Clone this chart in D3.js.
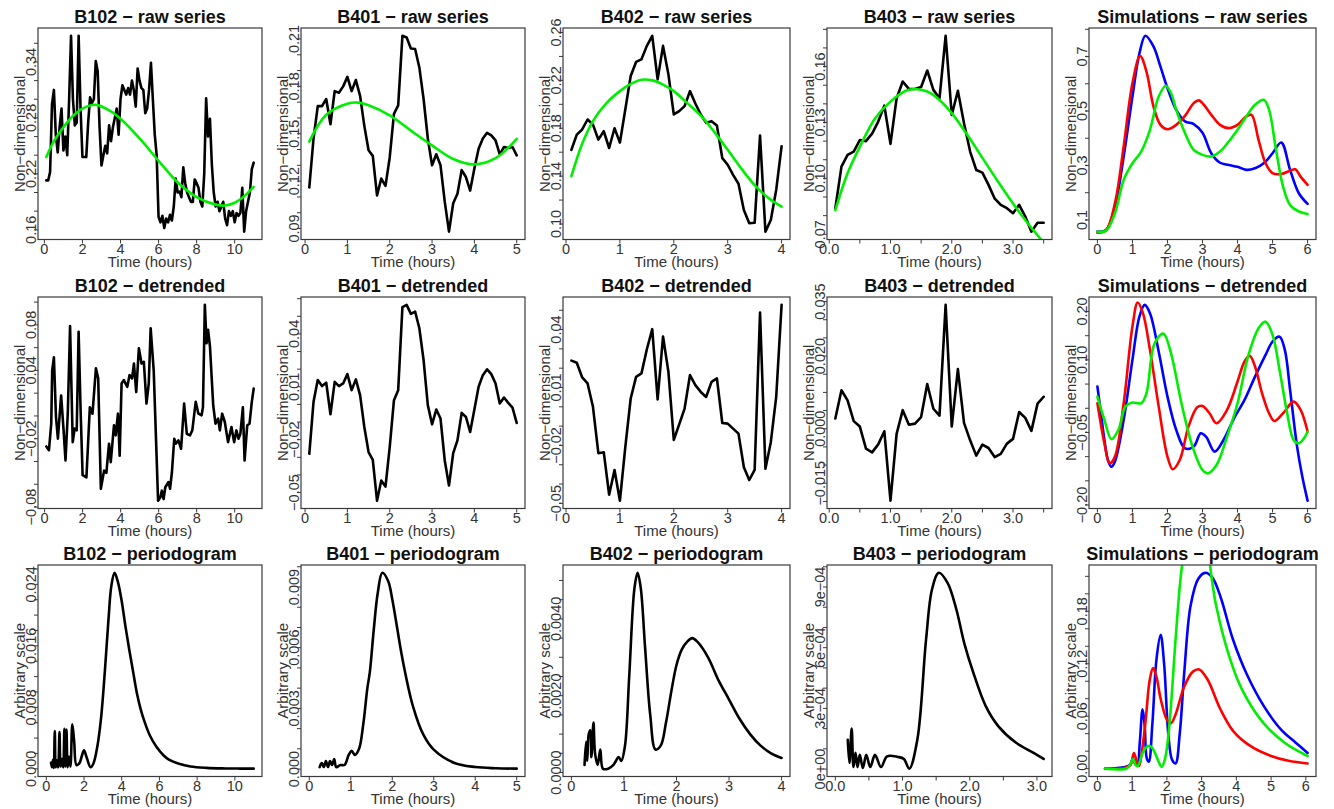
<!DOCTYPE html>
<html><head><meta charset="utf-8">
<script src="https://cdn.jsdelivr.net/npm/d3@7"></script>
<style>body{margin:0;background:#fff}svg{display:block}</style>
</head><body><svg id="c" width="1334" height="809"></svg>
<script>
// ---------------- DATA ----------------
const b102RawT = [0.1,0.2,0.3,0.4,0.5,0.6,0.7,0.8,0.9,1.0,1.1,1.2,1.3,1.4,1.5,1.6,1.7,1.8,1.9,2.0,2.1,2.2,2.3,2.4,2.5,2.6,2.7,2.8,2.9,3.0,3.1,3.2,3.3,3.4,3.5,3.6,3.7,3.8,3.9,4.0,4.1,4.2,4.3,4.4,4.5,4.6,4.7,4.8,4.9,5.0,5.1,5.2,5.3,5.4,5.5,5.6,5.7,5.8,5.9,6.0,6.1,6.2,6.3,6.4,6.5,6.6,6.7,6.8,6.9,7.0,7.1,7.2,7.3,7.4,7.5,7.6,7.7,7.8,7.9,8.0,8.1,8.2,8.3,8.4,8.5,8.6,8.7,8.8,8.9,9.0,9.1,9.2,9.3,9.4,9.5,9.6,9.7,9.8,9.9,10.0,10.1,10.2,10.3,10.4,10.5,10.6,10.7,10.8,10.9,11.0];
const b102RawV = [0.213,0.213,0.222,0.295,0.31,0.262,0.243,0.27,0.29,0.245,0.26,0.24,0.30,0.368,0.30,0.272,0.275,0.368,0.29,0.238,0.238,0.238,0.275,0.302,0.296,0.30,0.341,0.33,0.27,0.229,0.24,0.25,0.242,0.272,0.255,0.27,0.28,0.29,0.262,0.30,0.315,0.31,0.305,0.312,0.305,0.32,0.31,0.292,0.333,0.32,0.312,0.31,0.285,0.29,0.31,0.339,0.30,0.262,0.24,0.174,0.168,0.175,0.162,0.172,0.168,0.176,0.17,0.185,0.215,0.20,0.201,0.195,0.227,0.21,0.20,0.195,0.19,0.19,0.214,0.21,0.205,0.19,0.185,0.22,0.301,0.26,0.279,0.23,0.2,0.185,0.19,0.18,0.185,0.19,0.172,0.165,0.18,0.175,0.18,0.168,0.178,0.175,0.178,0.205,0.158,0.18,0.19,0.2,0.225,0.232];
const b102Trend = [[0.1,0.238],[0.5,0.255],[1,0.27],[1.5,0.282],[2,0.29],[2.7,0.294],[3.5,0.287],[4,0.279],[5,0.258],[6,0.234],[7,0.211],[8,0.195],[9,0.187],[9.5,0.186],[10,0.189],[10.5,0.196],[11,0.206]];
const b102Det = [[0.09,-0.0268],[0.23,-0.030],[0.35,-0.0068],[0.4,0.040],[0.49,0.0515],[0.6,-0.001],[0.7,-0.020],[0.87,0.018],[1.0,-0.0127],[1.1,-0.039],[1.22,0.002],[1.34,0.079],[1.48,-0.023],[1.58,-0.011],[1.69,-0.0127],[1.79,0.074],[1.9,0.002],[2.0,-0.052],[2.2,-0.054],[2.38,0.0076],[2.52,0.002],[2.7,0.0418],[2.82,0.033],[2.96,-0.064],[3.13,-0.048],[3.25,-0.050],[3.39,-0.0244],[3.48,-0.0406],[3.65,-0.0082],[3.74,-0.017],[3.86,0.002],[3.95,-0.035],[4.05,0.0285],[4.17,0.0315],[4.35,0.0256],[4.47,0.0359],[4.6,0.033],[4.7,0.046],[4.82,0.021],[4.96,0.0594],[5.1,0.046],[5.22,0.0476],[5.36,0.0109],[5.48,0.0285],[5.58,0.077],[5.74,0.040],[5.97,-0.0744],[6.09,-0.0715],[6.17,-0.0656],[6.26,-0.073],[6.35,-0.0626],[6.52,-0.058],[6.6,-0.064],[6.7,-0.049],[6.82,-0.020],[6.9,-0.0244],[7.04,-0.0215],[7.18,-0.0288],[7.34,0.0109],[7.48,-0.0156],[7.65,-0.017],[7.77,-0.0127],[7.95,0.0124],[8.09,0.002],[8.26,0.0006],[8.33,0.0076],[8.43,0.0976],[8.52,0.0638],[8.6,0.0756],[8.7,0.061],[8.87,0.0094],[8.99,-0.0068],[9.13,-0.0024],[9.22,-0.0127],[9.34,0.002],[9.48,-0.0053],[9.65,-0.023],[9.83,-0.0097],[9.97,-0.023],[10.09,-0.0127],[10.2,-0.020],[10.3,-0.0156],[10.43,0.0076],[10.52,-0.039],[10.66,-0.0082],[10.78,-0.0068],[10.9,0.0124],[11.0,0.0241]];
const b102Per = [[0.25,0.0008],[0.3,0.0002],[0.36,0.0012],[0.4,0.0001],[0.45,0.0049],[0.5,0.0002],[0.56,0.0011],[0.63,0.0002],[0.7,0.0048],[0.76,0.0003],[0.84,0.0013],[0.9,0.0002],[0.96,0.0052],[1.01,0.0003],[1.07,0.0051],[1.13,0.0002],[1.2,0.0016],[1.28,0.0003],[1.38,0.0058],[1.48,0.0035],[1.6,0.0005],[1.75,0.0007],[1.9,0.0018],[2.0,0.0024],[2.15,0.0014],[2.35,0.0002],[2.5,0.0007],[2.7,0.0028],[2.9,0.0065],[3.1,0.0125],[3.3,0.0195],[3.45,0.0238],[3.62,0.0255],[3.8,0.0243],[4.0,0.0218],[4.2,0.0185],[4.4,0.0155],[4.6,0.0127],[4.8,0.0099],[5.0,0.0078],[5.2,0.0062],[5.5,0.0043],[5.86,0.0028],[6.2,0.0018],[6.5,0.0012],[7.0,0.0007],[7.65,0.0003],[8.5,0.00012],[9.5,0.00005],[10.3,0.00003],[11.0,0.00002]];

const b401T = [0.1,0.2,0.3,0.4,0.5,0.6,0.7,0.8,0.9,1.0,1.1,1.2,1.3,1.4,1.5,1.6,1.7,1.8,1.9,2.0,2.1,2.2,2.3,2.4,2.5,2.6,2.7,2.8,2.9,3.0,3.1,3.2,3.3,3.4,3.5,3.6,3.7,3.8,3.9,4.0,4.1,4.2,4.3,4.4,4.5,4.6,4.7,4.8,4.9,5.0];
const b401RawV = [0.116,0.147,0.1675,0.1675,0.172,0.156,0.177,0.176,0.180,0.186,0.177,0.184,0.174,0.155,0.1395,0.136,0.111,0.1216,0.117,0.135,0.1626,0.168,0.212,0.211,0.204,0.2037,0.192,0.172,0.147,0.130,0.137,0.130,0.107,0.088,0.106,0.112,0.127,0.1226,0.114,0.128,0.1405,0.147,0.1506,0.149,0.1458,0.137,0.1416,0.141,0.1416,0.1363];
const b401Trend = [[0.1,0.145],[0.5,0.162],[1.0,0.169],[1.25,0.1697],[1.5,0.168],[2.0,0.1616],[2.5,0.152],[3.0,0.1426],[3.5,0.134],[4.0,0.1306],[4.5,0.1345],[5.0,0.1468]];
const b401DetV = [-0.028,0.0015,0.0138,0.0104,0.0123,-0.0056,0.0128,0.0104,0.0119,0.0172,0.0081,0.0142,0.0053,-0.0128,-0.027,-0.0314,-0.0546,-0.0432,-0.0466,-0.0242,0.0024,0.0081,0.0552,0.0565,0.0514,0.0527,0.0432,0.0252,-0.0004,-0.0113,-0.0029,-0.008,-0.0318,-0.046,-0.0276,-0.0204,-0.0048,-0.0071,-0.0156,-0.0029,0.01,0.0166,0.0199,0.0172,0.0119,0.0005,0.0039,0.0009,-0.0018,-0.0105];
const b401Per = [[0.25,0.0001],[0.3,0.0003],[0.35,0.0001],[0.4,0.0004],[0.45,0.0001],[0.5,0.0004],[0.55,0.0002],[0.6,0.0005],[0.65,0.0001],[0.75,0.0002],[0.85,0.0002],[0.95,0.0007],[1.02,0.0009],[1.1,0.0007],[1.2,0.0010],[1.3,0.0022],[1.4,0.0040],[1.46,0.0048],[1.55,0.0068],[1.65,0.0087],[1.76,0.0097],[1.9,0.0093],[2.0,0.0084],[2.25,0.0054],[2.5,0.0031],[2.75,0.0017],[3.0,0.00096],[3.5,0.0003],[4.0,0.0001],[4.5,0.00004],[5.0,0.00002]];

const b402T = [0.1,0.2,0.3,0.4,0.5,0.6,0.7,0.8,0.9,1.0,1.1,1.2,1.3,1.4,1.5,1.6,1.7,1.8,1.9,2.0,2.1,2.2,2.3,2.4,2.5,2.6,2.7,2.8,2.9,3.0,3.1,3.2,3.3,3.4,3.5,3.6,3.7,3.8,3.9,4.0];
const b402RawV = [0.162,0.1747,0.179,0.1873,0.183,0.1705,0.1775,0.1635,0.180,0.168,0.1957,0.2236,0.2354,0.2376,0.2488,0.2572,0.2208,0.2488,0.225,0.1915,0.1943,0.1985,0.211,0.2007,0.1915,0.1845,0.1859,0.1822,0.155,0.1495,0.141,0.1336,0.1117,0.1006,0.101,0.1738,0.0936,0.1034,0.1285,0.1649];
const b402Trend = [[0.1,0.140],[0.3,0.167],[0.5,0.186],[0.75,0.201],[1.0,0.211],[1.2,0.217],[1.4,0.2205],[1.6,0.220],[1.8,0.2165],[2.0,0.211],[2.25,0.201],[2.5,0.1905],[2.75,0.177],[3.0,0.162],[3.25,0.1465],[3.5,0.1325],[3.75,0.122],[4.0,0.1145]];
const b402DetV = [0.0239,0.0228,0.0152,0.0121,0.000,-0.024,-0.0235,-0.0455,-0.0327,-0.0486,-0.0209,0.0043,0.0155,0.0173,0.0298,0.0402,0.0038,0.0364,0.0181,-0.0171,-0.0091,-0.0009,0.0164,0.0112,0.0077,0.0051,0.0129,0.0147,-0.0084,-0.0087,-0.0113,-0.0139,-0.0313,-0.0379,-0.0327,0.0488,-0.0321,-0.0183,0.0051,0.0528];
const b402Per = [[0.25,0.0002],[0.28,0.0008],[0.3,0.0003],[0.33,0.0010],[0.36,0.0011],[0.38,0.0004],[0.42,0.0013],[0.45,0.0005],[0.5,0.0002],[0.55,0.0006],[0.6,0.0001],[0.7,0.0001],[0.8,0.0002],[0.9,0.0004],[0.95,0.0003],[1.02,0.0007],[1.1,0.0025],[1.2,0.0048],[1.26,0.0052],[1.32,0.0048],[1.4,0.0033],[1.5,0.0015],[1.6,0.0006],[1.7,0.0007],[1.8,0.0013],[1.9,0.0021],[2.0,0.0028],[2.1,0.0032],[2.2,0.0034],[2.3,0.0035],[2.4,0.0034],[2.6,0.0030],[2.8,0.0024],[3.0,0.0019],[3.2,0.0014],[3.4,0.0010],[3.6,0.0007],[3.8,0.0005],[4.0,0.00038]];

const b403T = [0.1,0.2,0.3,0.4,0.5,0.6,0.7,0.8,0.9,1.0,1.1,1.2,1.3,1.4,1.5,1.6,1.7,1.8,1.9,2.0,2.1,2.2,2.3,2.4,2.5,2.6,2.7,2.8,2.9,3.0,3.1,3.2,3.3,3.4,3.5];
const b403RawV = [0.084,0.1063,0.1126,0.1144,0.1206,0.120,0.124,0.1305,0.139,0.1185,0.143,0.152,0.148,0.148,0.149,0.1579,0.1475,0.143,0.1765,0.134,0.147,0.1296,0.1144,0.1045,0.1031,0.0965,0.0892,0.0858,0.084,0.0813,0.0858,0.0795,0.0714,0.0762,0.0762];
const b403Trend = [[0.1,0.083],[0.3,0.1028],[0.5,0.117],[0.75,0.1323],[1.0,0.1412],[1.25,0.147],[1.4,0.148],[1.6,0.1466],[1.8,0.1421],[2.0,0.135],[2.25,0.1235],[2.5,0.111],[2.75,0.0985],[3.0,0.0865],[3.25,0.0755],[3.5,0.0655]];
const b403DetV = [0.0028,0.0106,0.0078,0.0021,0.0006,-0.0055,-0.0065,-0.0043,-0.0007,-0.0198,-0.0014,0.0051,0.0011,0.0014,0.0032,0.0123,0.0055,0.0036,0.0341,0.0006,0.0164,0.0016,-0.0032,-0.0074,-0.0044,-0.0053,-0.0078,-0.0069,-0.0041,-0.0028,0.0046,0.003,-0.0006,0.0069,0.0088];
const b403Per = [[0.185,0.000145],[0.21,0.00003],[0.243,0.0002],[0.27,0.00001],[0.30,0.00008],[0.33,0.00001],[0.364,0.00007],[0.41,0.000005],[0.46,0.00007],[0.52,0.00001],[0.59,0.00007],[0.68,0.00001],[0.77,0.000063],[0.93,0.00006],[1.02,0.00005],[1.1,0.000002],[1.22,0.000145],[1.35,0.00064],[1.44,0.00089],[1.54,0.00097],[1.67,0.00092],[1.8,0.00079],[1.92,0.00062],[2.05,0.00048],[2.24,0.00031],[2.43,0.00021],[2.69,0.00013],[2.95,0.00008],[3.1,0.00005]];

const simRawBlue = [[0,0.057],[0.25,0.063],[0.5,0.149],[0.75,0.333],[1.0,0.553],[1.2,0.712],[1.37,0.776],[1.6,0.737],[1.8,0.663],[2.0,0.584],[2.25,0.504],[2.5,0.462],[2.75,0.452],[3.0,0.42],[3.25,0.345],[3.5,0.31],[3.75,0.302],[4.0,0.295],[4.25,0.284],[4.5,0.29],[4.75,0.308],[5.0,0.345],[5.25,0.384],[5.5,0.284],[5.75,0.198],[6.0,0.159]];
const simRawRed = [[0,0.053],[0.25,0.063],[0.5,0.161],[0.75,0.37],[1.0,0.602],[1.22,0.702],[1.4,0.645],[1.6,0.517],[1.8,0.449],[2.0,0.433],[2.25,0.449],[2.5,0.482],[2.75,0.529],[2.9,0.539],[3.25,0.486],[3.5,0.449],[3.75,0.437],[4.0,0.449],[4.25,0.48],[4.4,0.486],[4.6,0.394],[4.8,0.308],[5.0,0.272],[5.25,0.269],[5.5,0.281],[5.65,0.286],[5.8,0.259],[6.0,0.229]];
const simRawGreen = [[0,0.057],[0.25,0.061],[0.5,0.1245],[0.75,0.247],[1.0,0.308],[1.25,0.351],[1.5,0.431],[1.75,0.553],[1.95,0.593],[2.1,0.566],[2.25,0.504],[2.5,0.419],[2.75,0.357],[3.0,0.339],[3.25,0.333],[3.5,0.351],[3.75,0.388],[4.0,0.431],[4.25,0.48],[4.5,0.523],[4.75,0.541],[4.9,0.504],[5.1,0.357],[5.3,0.2225],[5.5,0.155],[5.75,0.131],[6.0,0.122]];

const simDetBlue = [[0,0.045],[0.1,-0.0103],[0.2,-0.0655],[0.3,-0.107],[0.4,-0.121],[0.5,-0.110],[0.75,-0.024],[1.0,0.100],[1.2,0.1897],[1.35,0.2138],[1.5,0.1966],[1.75,0.117],[2.0,0.0241],[2.25,-0.0448],[2.5,-0.0828],[2.75,-0.079],[2.95,-0.0517],[3.1,-0.0586],[3.35,-0.0897],[3.6,-0.0655],[3.9,-0.0207],[4.2,0.0172],[4.5,0.0655],[4.8,0.1103],[5.0,0.138],[5.2,0.148],[5.35,0.1207],[5.5,0.0379],[5.7,-0.0793],[5.85,-0.1414],[6.0,-0.191]];
const simDetRed = [[0,0.0103],[0.2,-0.0724],[0.35,-0.1138],[0.5,-0.10],[0.75,0.0103],[1.0,0.169],[1.15,0.2186],[1.3,0.1966],[1.5,0.1207],[1.75,0.0034],[2.0,-0.10],[2.15,-0.126],[2.35,-0.107],[2.6,-0.038],[2.85,0.0021],[3.0,0.0048],[3.2,-0.0103],[3.4,-0.031],[3.7,-0.0034],[4.0,0.0552],[4.2,0.0966],[4.35,0.1083],[4.5,0.0862],[4.7,0.031],[4.9,-0.0103],[5.05,-0.0262],[5.3,-0.0103],[5.6,0.0138],[5.8,-0.0034],[6.0,-0.048]];
const simDetGreen = [[0,0.0241],[0.2,-0.024],[0.4,-0.064],[0.6,-0.0448],[0.8,0.0034],[1.0,0.0117],[1.25,0.0103],[1.4,0.031],[1.6,0.1276],[1.8,0.1517],[1.9,0.1538],[2.1,0.1138],[2.4,0.0103],[2.7,-0.0759],[3.0,-0.1276],[3.15,-0.1345],[3.4,-0.1172],[3.7,-0.0586],[4.0,0.0103],[4.3,0.1069],[4.6,0.1655],[4.8,0.179],[5.0,0.1517],[5.2,0.0793],[5.4,-0.0034],[5.6,-0.0655],[5.75,-0.0724],[5.9,-0.062],[6.0,-0.048]];

const simPerBlue = [[0.22,0],[0.5,0.0005],[0.8,0.002],[0.95,0.005],[1.02,0.012],[1.08,0.006],[1.15,0.004],[1.22,0.03],[1.3,0.068],[1.36,0.05],[1.42,0.012],[1.48,0.008],[1.58,0.05],[1.7,0.125],[1.82,0.153],[1.92,0.12],[2.04,0.04],[2.15,0.01],[2.25,0.006],[2.37,0.04],[2.5,0.11],[2.68,0.186],[2.9,0.217],[3.1,0.224],[3.3,0.219],[3.54,0.197],[3.9,0.148],[4.3,0.108],[4.8,0.071],[5.3,0.044],[5.7,0.03],[6.05,0.018]];
const simPerRed = [[0.22,0],[0.8,0.001],[0.95,0.004],[1.05,0.018],[1.12,0.01],[1.2,0.003],[1.3,0.025],[1.4,0.06],[1.5,0.1],[1.6,0.115],[1.7,0.105],[1.82,0.08],[2.0,0.056],[2.12,0.052],[2.25,0.062],[2.5,0.094],[2.75,0.111],[2.93,0.1135],[3.17,0.102],[3.54,0.068],[3.91,0.043],[4.4,0.026],[5.0,0.0145],[5.5,0.009],[6.05,0.006]];
const simPerGreen = [[0.22,0],[0.84,0.0002],[0.95,0.005],[1.02,0.011],[1.1,0.004],[1.16,0.003],[1.3,0.018],[1.42,0.025],[1.52,0.026],[1.62,0.021],[1.72,0.012],[1.85,0.002],[1.95,0.012],[2.07,0.049],[2.25,0.148],[2.4,0.22],[2.55,0.262],[2.7,0.285],[2.85,0.292],[3.0,0.285],[3.15,0.26],[3.3,0.215],[3.42,0.186],[3.79,0.129],[4.16,0.0907],[4.77,0.0526],[5.39,0.0297],[6.05,0.0145]];

// tick values and the labels that are printed
const xTicksB102 = [0,2,4,6,8,10], xLabB102 = ["0","2","4","6","8","10"];
const xTicksB401 = [0,1,2,3,4,5], xLabB401 = ["0","1","2","3","4","5"];
const xTicksB402 = [0,1,2,3,4], xLabB402 = ["0","1","2","3","4"];
const xTicksB403 = [0,0.5,1,1.5,2,2.5,3,3.5], xLabB403 = ["0.0","1.0","2.0","3.0"];
const xTicksSim = [0,1,2,3,4,5,6], xLabSim = ["0","1","2","3","4","5","6"];

const yTicksB102Raw = [0.16,0.18,0.20,0.22,0.24,0.26,0.28,0.30,0.32,0.34,0.36], yLabB102Raw = ["0.16","0.22","0.28","0.34"];
const yTicksB401Raw = [0.09,0.10,0.11,0.12,0.13,0.14,0.15,0.16,0.17,0.18,0.19,0.20,0.21], yLabB401Raw = ["0.09","0.12","0.15","0.18","0.21"];
const yTicksB402Raw = [0.10,0.12,0.14,0.16,0.18,0.20,0.22,0.24,0.26], yLabB402Raw = ["0.10","0.14","0.18","0.22","0.26"];
const yTicksB403Raw = [0.07,0.08,0.09,0.10,0.11,0.12,0.13,0.14,0.15,0.16,0.17,0.18], yLabB403Raw = ["0.07","0.10","0.13","0.16"];
const yTicksSimRaw = [0.1,0.2,0.3,0.4,0.5,0.6,0.7,0.8], yLabSimRaw = ["0.1","0.3","0.5","0.7"];

const yTicksB102Det = [-0.08,-0.06,-0.04,-0.02,0,0.02,0.04,0.06,0.08,0.10], yLabB102Det = ["-0.08","-0.02","0.04","0.08"];
const yTicksB401Det = [-0.05,-0.04,-0.03,-0.02,-0.01,0,0.01,0.02,0.03,0.04,0.05,0.06], yLabB401Det = ["-0.05","-0.02","0.01","0.04"];
const yTicksB402Det = [-0.05,-0.04,-0.03,-0.02,-0.01,0,0.01,0.02,0.03,0.04,0.05], yLabB402Det = ["-0.05","-0.02","0.01","0.04"];
const yTicksB403Det = [-0.02,-0.015,-0.01,-0.005,0,0.005,0.01,0.015,0.02,0.025,0.03,0.035], yLabB403Det = ["-0.015","0.000","0.020","0.035"];
const yTicksSimDet = [-0.20,-0.15,-0.10,-0.05,0,0.05,0.10,0.15,0.20], yLabSimDet = ["-0.20","-0.05","0.10","0.20"];

const yTicksB102Per = [0,0.002,0.004,0.006,0.008,0.010,0.012,0.014,0.016,0.018,0.020,0.022,0.024,0.026], yLabB102Per = ["0.000","0.008","0.016","0.024"];
const yTicksB401Per = [0,0.001,0.002,0.003,0.004,0.005,0.006,0.007,0.008,0.009,0.010], yLabB401Per = ["0.000","0.003","0.006","0.009"];
const yTicksB402Per = [0,0.0005,0.001,0.0015,0.002,0.0025,0.003,0.0035,0.004,0.0045,0.005,0.0055], yLabB402Per = ["0.0000","0.0020","0.0040"];
const yTicksB403Per = [0,1e-4,2e-4,3e-4,4e-4,5e-4,6e-4,7e-4,8e-4,9e-4,1e-3], yLabB403Per = ["0e+00","3e-04","6e-04","9e-04"];
const yTicksSimPer = [0,0.02,0.04,0.06,0.08,0.10,0.12,0.14,0.16,0.18,0.20,0.22], yLabSimPer = ["0.00","0.06","0.12","0.18"];

// ---------------- DRAWING ----------------
const FONT = '"Liberation Sans", Arial, Helvetica, sans-serif';
const colX = [38, 301, 563, 827, 1089];
const boxW = [224, 224, 227, 225, 227];
const rowY = [28, 297, 565];
const boxH = 211.5;
const svg = d3.select("#c");
const zip = (t, v) => t.map((d, i) => [d, v[i]]);
const pad = e => { const r = e[1] - e[0]; return [e[0] - 0.04 * r, e[1] + 0.04 * r]; };
const minus = s => s.replace(/-/g, "\u2212");

function panel(p) {
  const x0 = colX[p.col], y0 = rowY[p.row], w = boxW[p.col], h = boxH;
  const ref = p.series[0].data;
  const xd = p.xFrom0 ? pad([0, d3.max(ref, d => d[0])]) : pad(d3.extent(ref, d => d[0]));
  const yd = pad(d3.extent(ref, d => d[1]));
  const x = d3.scaleLinear().domain(xd).range([x0, x0 + w]);
  const y = d3.scaleLinear().domain(yd).range([y0 + h, y0]);
  const g = svg.append("g");
  const cid = "cl" + p.row + "_" + p.col;
  g.append("clipPath").attr("id", cid).append("rect")
    .attr("x", x0).attr("y", y0).attr("width", w).attr("height", h);
  const pg = g.append("g").attr("clip-path", `url(#${cid})`);
  p.series.forEach(s => {
    const line = d3.line().x(d => x(d[0])).y(d => y(d[1]))
      .curve(s.smooth ? d3.curveCatmullRom.alpha(0.5) : d3.curveLinear);
    pg.append("path").datum(s.data).attr("d", line).attr("fill", "none")
      .attr("stroke", s.color).attr("stroke-width", 2.6)
      .attr("stroke-linejoin", "round").attr("stroke-linecap", "round");
  });
  g.append("rect").attr("x", x0).attr("y", y0).attr("width", w).attr("height", h)
    .attr("fill", "none").attr("stroke", "#3a3a3a").attr("stroke-width", 1.2);
  // x axis
  const xt = p.xTicks.filter(v => v >= xd[0] && v <= xd[1]);
  xt.forEach(v => g.append("line").attr("x1", x(v)).attr("x2", x(v))
    .attr("y1", y0 + h).attr("y2", y0 + h + 4).attr("stroke", "#3a3a3a").attr("stroke-width", 1));
  p.xLabels.forEach(s => g.append("text").attr("x", x(+s)).attr("y", y0 + h + 14.5)
    .attr("text-anchor", "middle").attr("font-family", FONT).attr("font-size", 14.5)
    .attr("fill", "#333").text(s));
  // y axis
  const yt = p.yTicks.filter(v => v >= yd[0] && v <= yd[1]);
  yt.forEach(v => g.append("line").attr("x1", x0).attr("x2", x0 - 4)
    .attr("y1", y(v)).attr("y2", y(v)).attr("stroke", "#3a3a3a").attr("stroke-width", 1));
  p.yLabels.forEach(s => {
    const yy = y(+s);
    g.append("text").attr("transform", `translate(${x0 - 2},${yy}) rotate(-90)`)
      .attr("text-anchor", "middle").attr("font-family", FONT).attr("font-size", 14.5)
      .attr("fill", "#333").text(minus(s));
  });
  // titles
  g.append("text").attr("x", x0 + w / 2).attr("y", y0 - 5.5).attr("text-anchor", "middle")
    .attr("font-family", FONT).attr("font-size", 18).attr("font-weight", "bold")
    .attr("fill", "#111").text(p.title);
  g.append("text").attr("x", x0 + w / 2).attr("y", y0 + h + 27.5).attr("text-anchor", "middle")
    .attr("font-family", FONT).attr("font-size", 15).attr("fill", "#333").text("Time (hours)");
  g.append("text").attr("transform", `translate(${x0 - 13},${y0 + h / 2}) rotate(-90)`)
    .attr("text-anchor", "middle").attr("font-family", FONT).attr("font-size", 15)
    .attr("fill", "#333").text(p.ylab);
}

const ND = "Non\u2212dimensional", AS = "Arbitrary scale", M = " \u2212 ";
const BLK = "#000", GRN = "#00ee00", RED = "#ff0000", BLU = "#0000ff";

panel({col:0,row:0,title:"B102"+M+"raw series",ylab:ND,xTicks:xTicksB102,xLabels:xLabB102,yTicks:yTicksB102Raw,yLabels:yLabB102Raw,
  series:[{data:zip(b102RawT,b102RawV),color:BLK},{data:b102Trend,color:GRN,smooth:true}]});
panel({col:1,row:0,title:"B401"+M+"raw series",ylab:ND,xTicks:xTicksB401,xLabels:xLabB401,yTicks:yTicksB401Raw,yLabels:yLabB401Raw,
  series:[{data:zip(b401T,b401RawV),color:BLK},{data:b401Trend,color:GRN,smooth:true}]});
panel({col:2,row:0,title:"B402"+M+"raw series",ylab:ND,xTicks:xTicksB402,xLabels:xLabB402,yTicks:yTicksB402Raw,yLabels:yLabB402Raw,
  series:[{data:zip(b402T,b402RawV),color:BLK},{data:b402Trend,color:GRN,smooth:true}]});
panel({col:3,row:0,title:"B403"+M+"raw series",ylab:ND,xTicks:xTicksB403,xLabels:xLabB403,yTicks:yTicksB403Raw,yLabels:yLabB403Raw,
  series:[{data:zip(b403T,b403RawV),color:BLK},{data:b403Trend,color:GRN,smooth:true}]});
panel({col:4,row:0,title:"Simulations"+M+"raw series",ylab:ND,xTicks:xTicksSim,xLabels:xLabSim,yTicks:yTicksSimRaw,yLabels:yLabSimRaw,
  series:[{data:simRawBlue,color:BLU,smooth:true},{data:simRawRed,color:RED,smooth:true},{data:simRawGreen,color:GRN,smooth:true}]});

panel({col:0,row:1,title:"B102"+M+"detrended",ylab:ND,xTicks:xTicksB102,xLabels:xLabB102,yTicks:yTicksB102Det,yLabels:yLabB102Det,
  series:[{data:b102Det,color:BLK}]});
panel({col:1,row:1,title:"B401"+M+"detrended",ylab:ND,xTicks:xTicksB401,xLabels:xLabB401,yTicks:yTicksB401Det,yLabels:yLabB401Det,
  series:[{data:zip(b401T,b401DetV),color:BLK}]});
panel({col:2,row:1,title:"B402"+M+"detrended",ylab:ND,xTicks:xTicksB402,xLabels:xLabB402,yTicks:yTicksB402Det,yLabels:yLabB402Det,
  series:[{data:zip(b402T,b402DetV),color:BLK}]});
panel({col:3,row:1,title:"B403"+M+"detrended",ylab:ND,xTicks:xTicksB403,xLabels:xLabB403,yTicks:yTicksB403Det,yLabels:yLabB403Det,
  series:[{data:zip(b403T,b403DetV),color:BLK}]});
panel({col:4,row:1,title:"Simulations"+M+"detrended",ylab:ND,xTicks:xTicksSim,xLabels:xLabSim,yTicks:yTicksSimDet,yLabels:yLabSimDet,
  series:[{data:simDetBlue,color:BLU,smooth:true},{data:simDetRed,color:RED,smooth:true},{data:simDetGreen,color:GRN,smooth:true}]});

panel({col:0,row:2,title:"B102"+M+"periodogram",ylab:AS,xFrom0:true,xTicks:xTicksB102,xLabels:xLabB102,yTicks:yTicksB102Per,yLabels:yLabB102Per,
  series:[{data:b102Per,color:BLK,smooth:true}]});
panel({col:1,row:2,title:"B401"+M+"periodogram",ylab:AS,xFrom0:true,xTicks:xTicksB401,xLabels:xLabB401,yTicks:yTicksB401Per,yLabels:yLabB401Per,
  series:[{data:b401Per,color:BLK,smooth:true}]});
panel({col:2,row:2,title:"B402"+M+"periodogram",ylab:AS,xFrom0:true,xTicks:xTicksB402,xLabels:xLabB402,yTicks:yTicksB402Per,yLabels:yLabB402Per,
  series:[{data:b402Per,color:BLK,smooth:true}]});
panel({col:3,row:2,title:"B403"+M+"periodogram",ylab:AS,xFrom0:true,xTicks:xTicksB403,xLabels:xLabB403,yTicks:yTicksB403Per,yLabels:yLabB403Per,
  series:[{data:b403Per,color:BLK,smooth:true}]});
panel({col:4,row:2,title:"Simulations"+M+"periodogram",ylab:AS,xFrom0:true,xTicks:xTicksSim,xLabels:xLabSim,yTicks:yTicksSimPer,yLabels:yLabSimPer,
  series:[{data:simPerBlue,color:BLU,smooth:true},{data:simPerRed,color:RED,smooth:true},{data:simPerGreen,color:GRN,smooth:true}]});
</script>
</body></html>
